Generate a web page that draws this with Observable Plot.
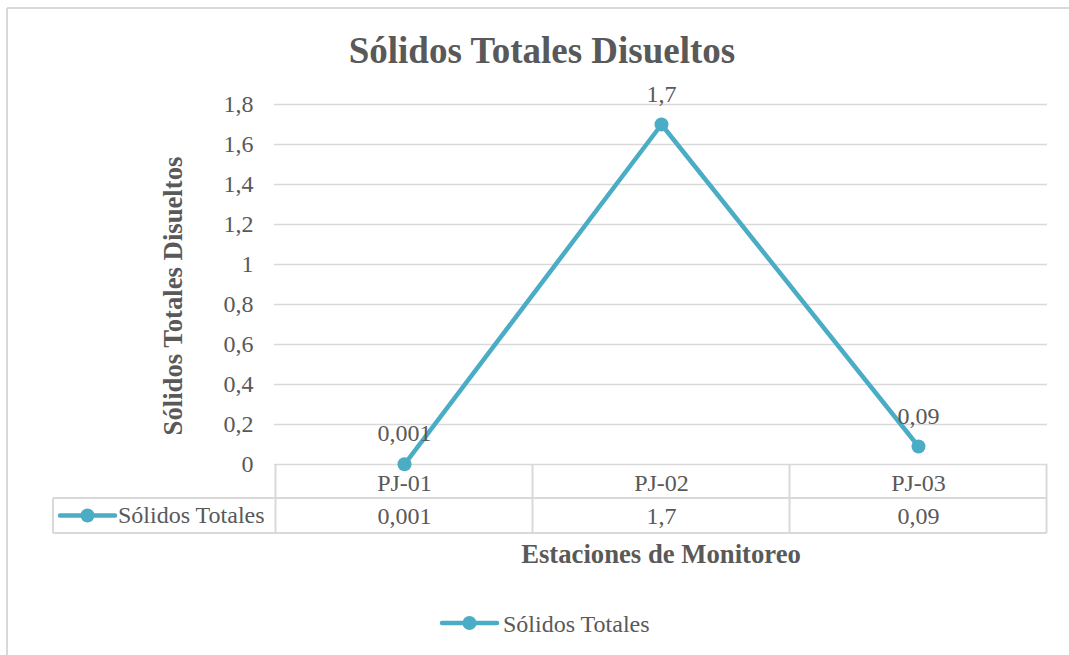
<!DOCTYPE html>
<html>
<head>
<meta charset="utf-8">
<script src="https://cdn.jsdelivr.net/npm/d3@7"></script>
<script src="https://cdn.jsdelivr.net/npm/@observablehq/plot@0.6"></script>
<style>
  html, body { margin: 0; padding: 0; background: #fff; }
  #chart svg { display: block; }
</style>
</head>
<body>
<div id="chart"></div>
<script>
// Monitoring stations and measured total dissolved solids
const stations = ["PJ-01", "PJ-02", "PJ-03"];
const values = [0.001, 1.7, 0.09];
const valueLabels = ["0,001", "1,7", "0,09"];
const seriesName = "Sólidos Totales";

// Y axis ticks with comma decimals
const yTicks = [0, 0.2, 0.4, 0.6, 0.8, 1, 1.2, 1.4, 1.6, 1.8];
const yTickLabels = ["0", "0,2", "0,4", "0,6", "0,8", "1", "1,2", "1,4", "1,6", "1,8"];

const title = "Sólidos Totales Disueltos";
const yTitle = "Sólidos Totales Disueltos";
const xTitle = "Estaciones de Monitoreo";

const lineColor = "#4bacc6";
const textColor = "#595959";
const gridColor = "#d9d9d9";

const rows = stations.map((s, i) => ({station: s, value: values[i], label: valueLabels[i]}));
const ticks = yTicks.map((v, i) => ({v, label: yTickLabels[i]}));

const W = 1069, H = 655;

const plot = Plot.plot({
  width: W,
  height: H,
  marginLeft: 274,
  marginRight: 22,
  marginTop: 104,
  marginBottom: 191,
  style: {
    fontFamily: "'Liberation Serif', 'Times New Roman', serif",
    fontSize: "24px",
    color: textColor,
    background: "#fff",
    overflow: "visible"
  },
  x: {type: "point", domain: stations, padding: 0.5, axis: null},
  y: {domain: [0, 1.8], axis: null},
  marks: [
    // horizontal gridlines
    Plot.ruleY(ticks, {y: "v", stroke: gridColor, strokeWidth: 1.3}),
    // y tick labels
    Plot.text(ticks, {y: "v", text: "label", frameAnchor: "left", textAnchor: "end", dx: -21, fill: textColor}),
    // data line and markers
    Plot.line(rows, {x: "station", y: "value", stroke: lineColor, strokeWidth: 4.5, strokeLinejoin: "round"}),
    Plot.dot(rows, {x: "station", y: "value", r: 7, fill: lineColor, stroke: "none"}),
    // data labels
    Plot.text(rows, {x: "station", y: "value", text: "label", lineAnchor: "bottom", dy: -23, fill: textColor}),
    // data table: category row and value row
    Plot.text(rows, {x: "station", text: "station", frameAnchor: "bottom", lineAnchor: "bottom", dy: 26, fill: textColor}),
    Plot.text(rows, {x: "station", text: "label", frameAnchor: "bottom", lineAnchor: "bottom", dy: 59, fill: textColor})
  ]
});

document.getElementById("chart").appendChild(plot);

const svg = d3.select(plot);
const xs = plot.scale("x");
const ys = plot.scale("y");
const step = xs.apply(stations[1]) - xs.apply(stations[0]);
const left = xs.apply(stations[0]) - step / 2;
const right = xs.apply(stations[stations.length - 1]) + step / 2;
const y0 = ys.apply(0);
const row1 = y0 + 34, row2 = y0 + 69;
const keyLeft = 53;

// outer chart border
const border = svg.append("g").attr("stroke", gridColor).attr("stroke-width", 2).attr("fill", "none");
border.append("line").attr("x1", 7).attr("x2", W).attr("y1", 8).attr("y2", 8);
border.append("line").attr("x1", 7).attr("x2", 7).attr("y1", 8).attr("y2", H);

// data table borders
const table = svg.append("g").attr("stroke", gridColor).attr("stroke-width", 2).attr("fill", "none");
const bounds = [left, ...stations.slice(1).map(s => xs.apply(s) - step / 2), right];
bounds.forEach(bx => {
  table.append("line").attr("x1", bx).attr("x2", bx).attr("y1", y0).attr("y2", row2);
});
table.append("line").attr("x1", keyLeft).attr("x2", keyLeft).attr("y1", row1).attr("y2", row2);
table.append("line").attr("x1", keyLeft).attr("x2", right).attr("y1", row1).attr("y2", row1);
table.append("line").attr("x1", keyLeft).attr("x2", right).attr("y1", row2).attr("y2", row2);

// legend key drawing
function legendKey(g, x1, x2, cy) {
  g.append("line").attr("x1", x1).attr("x2", x2).attr("y1", cy).attr("y2", cy)
    .attr("stroke", lineColor).attr("stroke-width", 4.5).attr("stroke-linecap", "round");
  g.append("circle").attr("cx", (x1 + x2) / 2).attr("cy", cy).attr("r", 7).attr("fill", lineColor);
}

// legend key inside the table
const tk = svg.append("g");
legendKey(tk, 60, 115, (row1 + row2) / 2);
tk.append("text").attr("x", 118).attr("y", y0 + 59).attr("fill", textColor)
  .attr("text-anchor", "start").attr("font-size", 24).text(seriesName);

// titles
svg.append("text").attr("x", 542).attr("y", 63).attr("text-anchor", "middle")
  .attr("font-size", 37).attr("font-weight", "bold").attr("fill", textColor).text(title);
svg.append("text").attr("transform", "translate(182,296) rotate(-90)")
  .attr("text-anchor", "middle").attr("font-size", 26.7).attr("font-weight", "bold")
  .attr("fill", textColor).text(yTitle);
svg.append("text").attr("x", (left + right) / 2).attr("y", 563).attr("text-anchor", "middle")
  .attr("font-size", 26.7).attr("font-weight", "bold").attr("fill", textColor).text(xTitle);

// bottom legend
const lg = svg.append("g");
legendKey(lg, 442, 497, 623);
lg.append("text").attr("x", 503).attr("y", 632).attr("fill", textColor)
  .attr("text-anchor", "start").attr("font-size", 24).text(seriesName);
</script>
</body>
</html>
